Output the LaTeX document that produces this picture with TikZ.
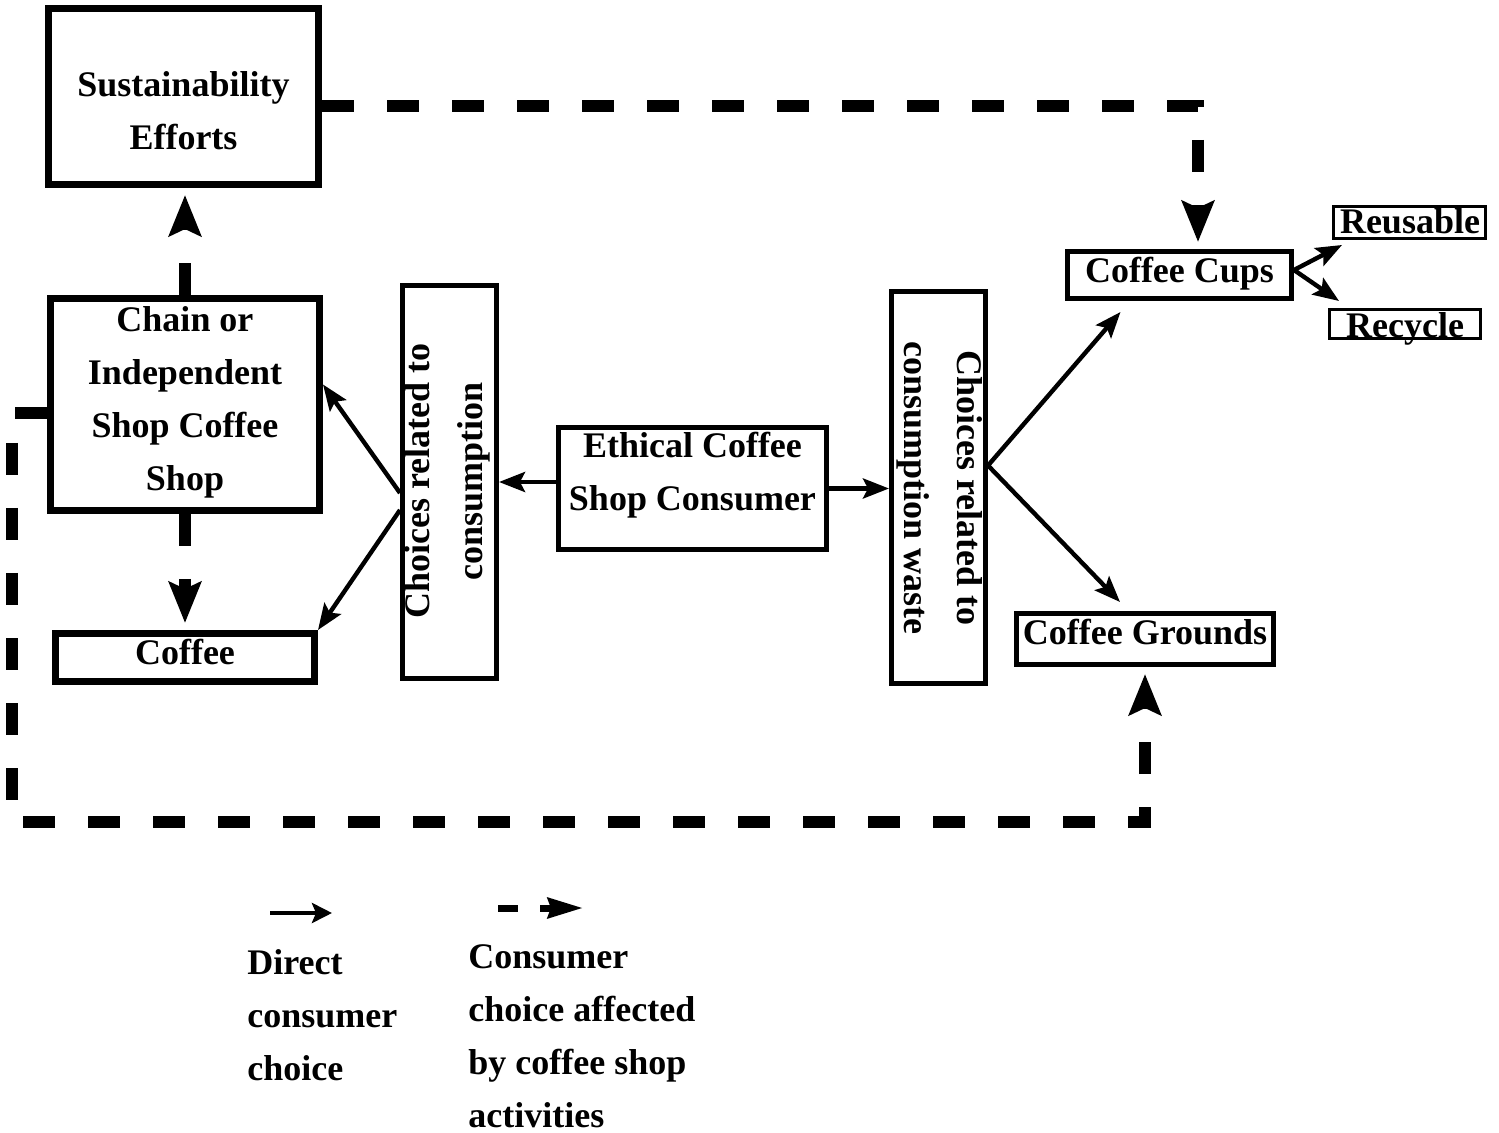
\documentclass[tikz,border=0pt]{standalone}
\usepackage{fontspec}
\setmainfont{Liberation Serif}
\usetikzlibrary{arrows.meta,calc}

\tikzset{
  bigbox/.style={draw, line width=3.5pt, inner sep=0pt},
  midbox/.style={draw, line width=2.5pt, inner sep=0pt},
  tinybox/.style={draw, line width=1.5pt, inner sep=0pt},
  boxtxt/.style={font=\bfseries\fontsize{18}{26.5}\selectfont, align=center, inner sep=0pt},
  direct/.style={line width=2.2pt, -{Stealth[length=13pt,width=10pt,inset=2.5pt]}},
  affect/.style={line width=6pt, dash pattern=on 16pt off 16.5pt, shorten >=3.5pt,
    -{Stealth[length=20.5pt,width=16pt,inset=3.5pt]}},
  keydirect/.style={line width=2pt, -{Stealth[length=10pt,width=10pt,inset=2pt]}},
  keyaffect/.style={line width=3.5pt, dash pattern=on 10pt off 11pt,
    -{Stealth[length=17.5pt,width=10pt,inset=1.5pt]}}
}

\begin{document}
\begin{tikzpicture}[x=0.5pt, y=-0.5pt]
\useasboundingbox (0,0) rectangle (1499,1133);

% === LEFT: shop side ===
\node[bigbox, minimum width=135pt, minimum height=88pt] (sust) at (183.5,96.5) {};
\node[boxtxt] (sust-txt) at (183.5,110.5) {Sustainability\\Efforts};

\node[bigbox, minimum width=134.5pt, minimum height=106pt] (chain) at (185,404.5) {};
\node[boxtxt] (chain-txt) at (185,402) {Chain or\\Independent\\Shop Coffee\\Shop};

\node[bigbox, minimum width=129.5pt, minimum height=24pt] (coffee) at (185,657.5) {};
\node[boxtxt] (coffee-txt) at (185,652) {Coffee};

\node[midbox, minimum width=47pt, minimum height=196.5pt] (consL) at (449.5,482) {};
\node[boxtxt, rotate=90] (consL-txt) at (447,481) {Choices related to\\consumption};

% === MIDDLE: consumer ===
\node[midbox, minimum width=134pt, minimum height=61pt] (ethical) at (692.5,488.5) {};
\node[boxtxt] (ethical-txt) at (692.5,475.5) {Ethical Coffee\\Shop Consumer};

% === RIGHT: waste side ===
\node[midbox, minimum width=47pt, minimum height=196pt] (consR) at (938.5,487.5) {};
\node[boxtxt, rotate=-90] (consR-txt) at (940,488) {Choices related to\\consumption waste};

\node[midbox, minimum width=112pt, minimum height=23.5pt] (cups) at (1179.5,275) {};
\node[boxtxt] (cups-txt) at (1179.5,273.5) {Coffee Cups};

\node[midbox, minimum width=128.5pt, minimum height=25.5pt] (grounds) at (1145,639) {};
\node[boxtxt] (grounds-txt) at (1145,632) {Coffee Grounds};

\node[tinybox, minimum width=76pt, minimum height=16pt] (reusable) at (1409.5,222.5) {};
\node[boxtxt] (reusable-txt) at (1410,221.5) {Reusable};
\node[tinybox, minimum width=75.5pt, minimum height=14.5pt] (recycle) at (1405,324) {};
\node[boxtxt] (recycle-txt) at (1405,328.5) {Recycle};

% direct consumer choices
\draw[direct] (ethical.west |- consL.east) -- (consL.east);
\draw[direct] (ethical.east) -- (ethical.east -| consR.west);
\draw[direct] ($(consL.west)+(0,11)$) -- ($(chain.east)+(0,-20)$);
\draw[direct] ($(consL.west)+(0,28)$) -- (coffee.north east);
\coordinate (fork) at ($(consR.east)+(0,-22)$);
\draw[direct] (fork) -- ($(cups.south)+(-59,11)$);
\draw[direct] (fork) -- ($(grounds.north)+(-25,-9)$);
\draw[direct] ($(cups.east)+(0,-5)$) -- ($(reusable.south west)+(10,5)$);
\draw[direct] ($(cups.east)+(0,-5)$) -- ($(recycle.north west)+(11,-7)$);

% choices affected by the shop
\draw[affect] ($(sust.east)+(0,9.5)$) -| ($(cups.north)+(18.5,0)$);
\draw[affect] (chain.north) -- (chain.north |- sust.south);
\draw[affect] (chain.south) -- (chain.south |- coffee.north);
\coordinate (loop) at (12,822);
\draw[affect] ($(chain.west)+(0,8.5)$) -| (loop) -| (grounds.south);

% === KEY ===
\coordinate (k1a) at (270,913);
\coordinate (k1b) at (332,913);
\draw[keydirect] (k1a) -- (k1b);
\coordinate (k2a) at (498,908);
\coordinate (k2b) at (583,908);
\draw[keyaffect] (k2a) -- (k2b);
\node[boxtxt, align=left, anchor=west] (key1) at (247,1015) {Direct\\consumer\\choice};
\node[boxtxt, align=left, anchor=west] (key2) at (468,1036.5) {Consumer\\choice affected\\by coffee shop\\activities};

\end{tikzpicture}
\end{document}
